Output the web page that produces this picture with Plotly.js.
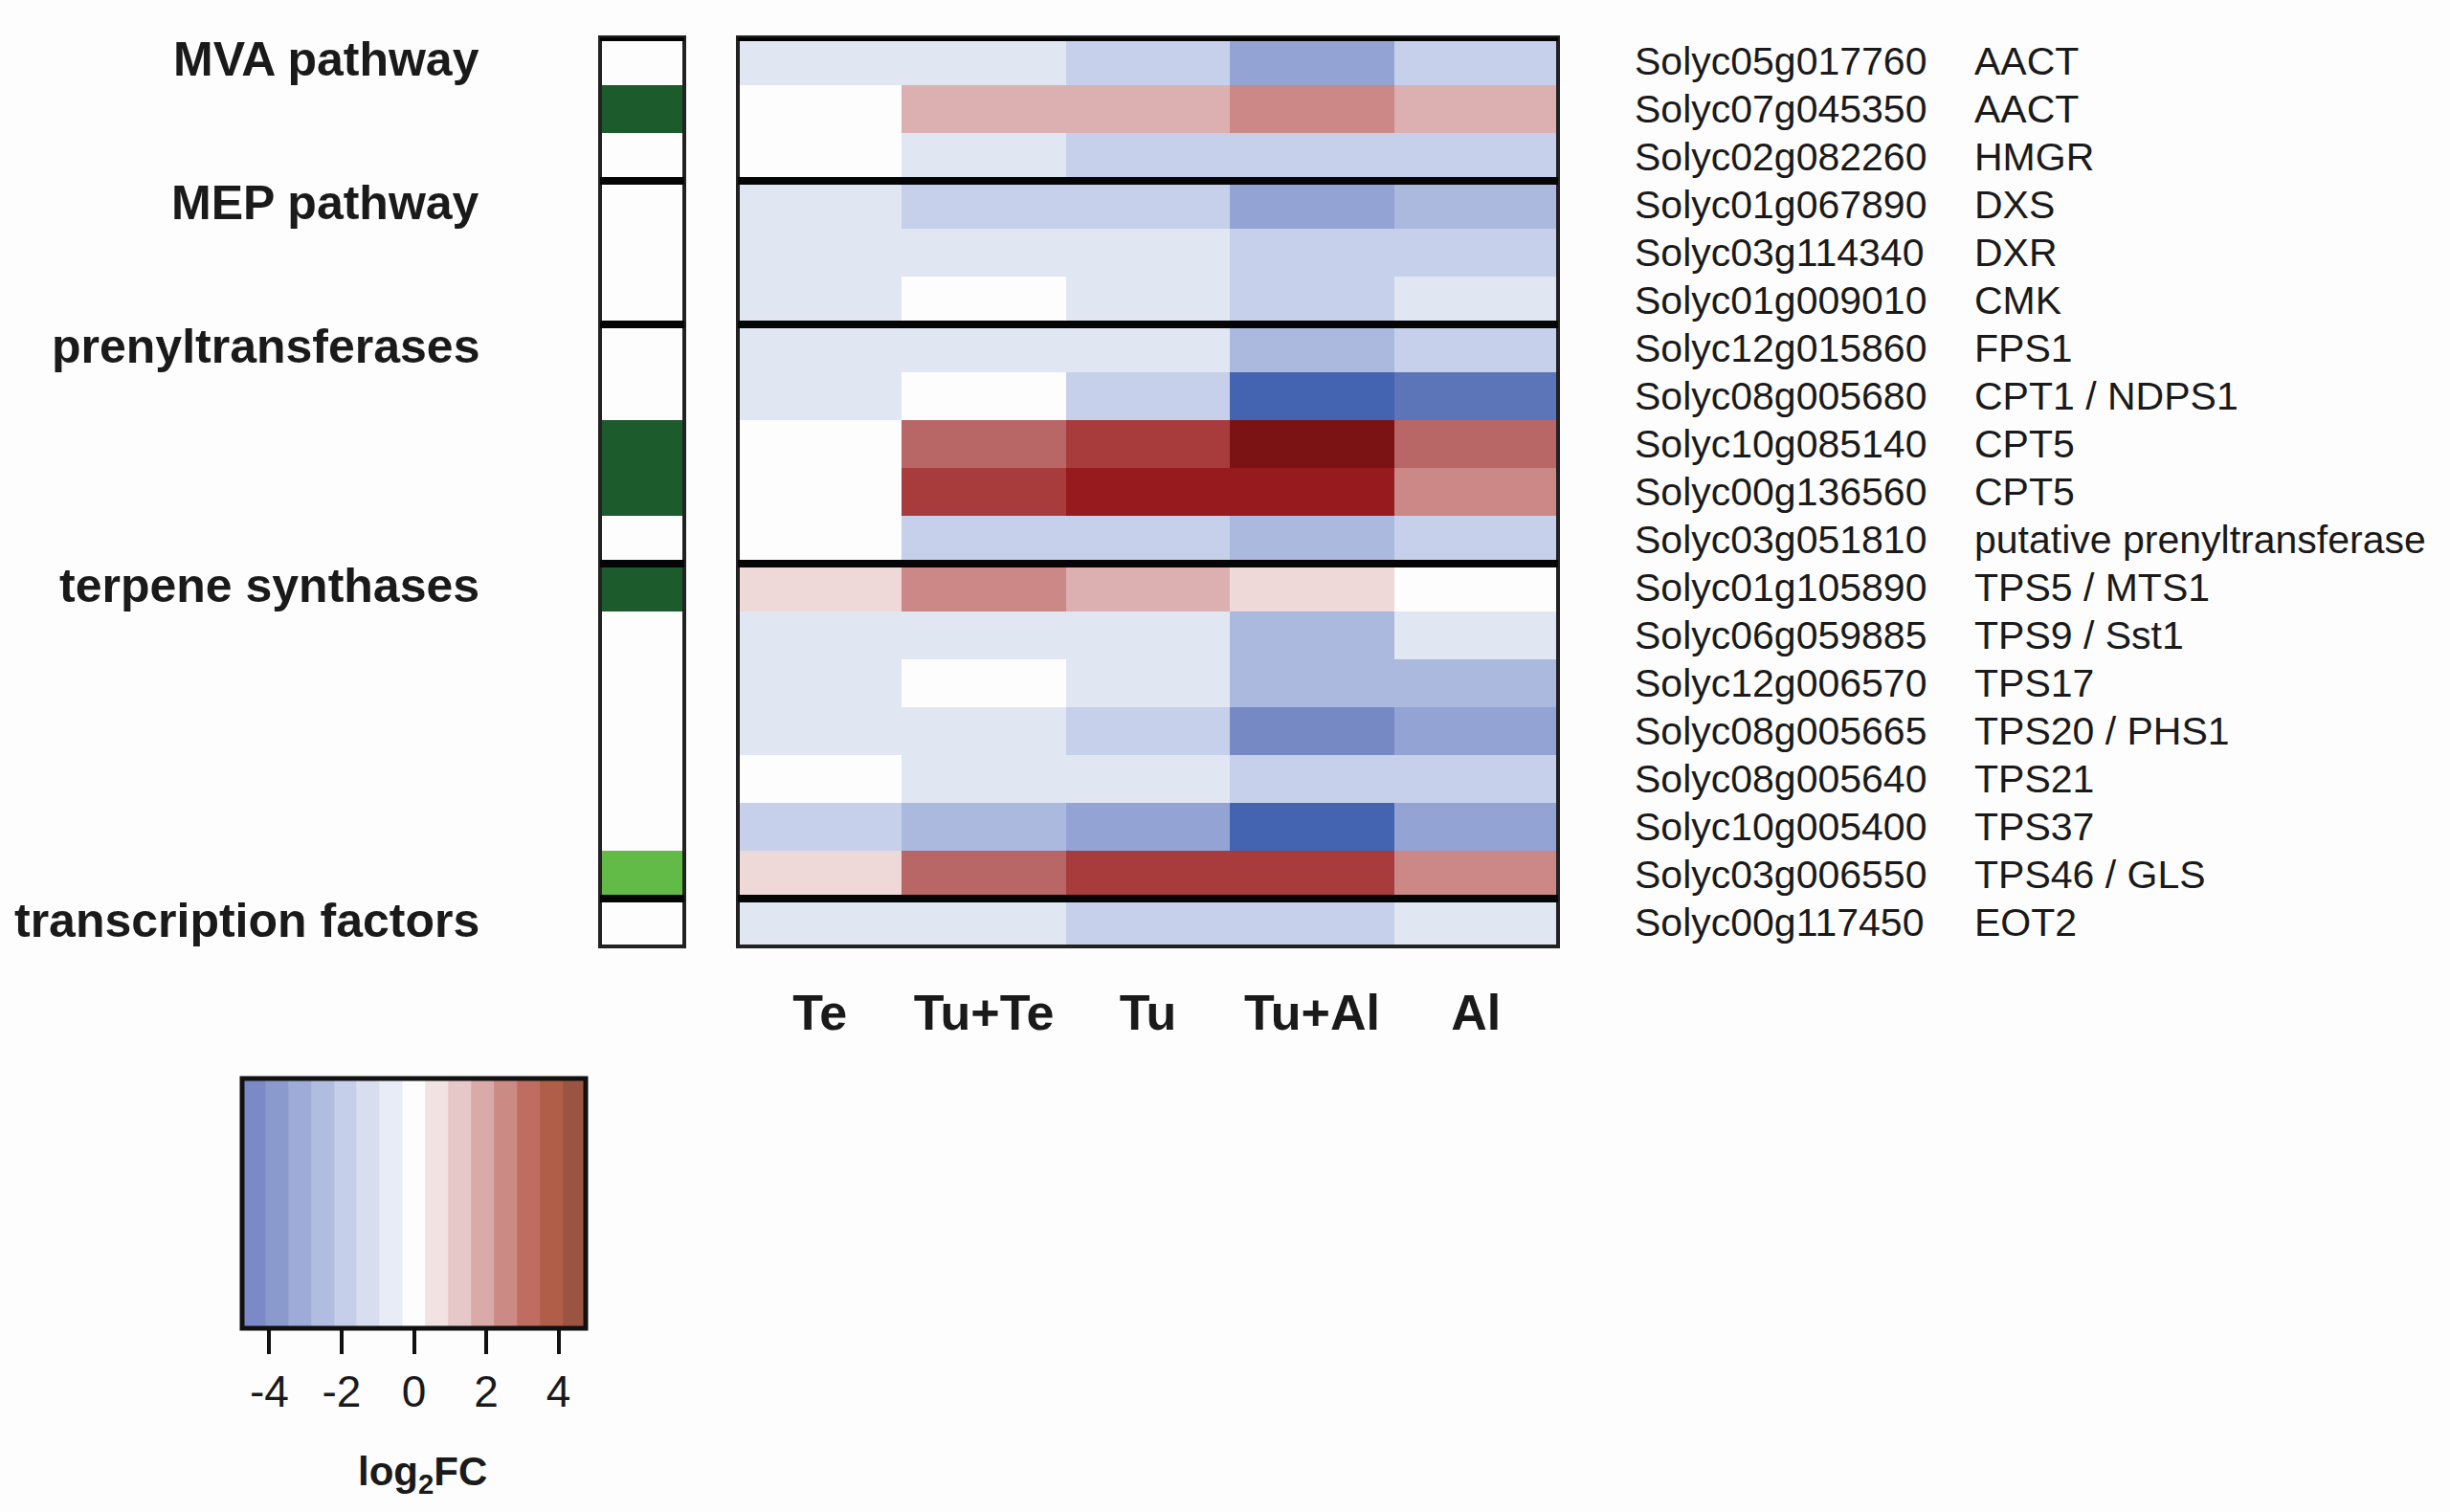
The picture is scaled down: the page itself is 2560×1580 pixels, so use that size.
<!DOCTYPE html>
<html>
<head>
<meta charset="utf-8">
<script src="https://cdn.plot.ly/plotly-3.0.1.min.js"></script>
<style>
  html, body { margin: 0; padding: 0; background: #fdfdfd; }
  #chart { width: 2560px; height: 1580px; }
</style>
</head>
<body>
<div id="chart"></div>
<script>
// ---------------- data ----------------
const conditions = ['Te', 'Tu+Te', 'Tu', 'Tu+Al', 'Al'];
const geneIds = ['Solyc05g017760','Solyc07g045350','Solyc02g082260','Solyc01g067890','Solyc03g114340',
  'Solyc01g009010','Solyc12g015860','Solyc08g005680','Solyc10g085140','Solyc00g136560','Solyc03g051810',
  'Solyc01g105890','Solyc06g059885','Solyc12g006570','Solyc08g005665','Solyc08g005640','Solyc10g005400',
  'Solyc03g006550','Solyc00g117450'];
const geneNames = ['AACT','AACT','HMGR','DXS','DXR','CMK','FPS1','CPT1 / NDPS1','CPT5','CPT5',
  'putative prenyltransferase','TPS5 / MTS1','TPS9 / Sst1','TPS17','TPS20 / PHS1','TPS21','TPS37',
  'TPS46 / GLS','EOT2'];
const groupNames = ['MVA pathway','MEP pathway','prenyltransferases','terpene synthases','transcription factors'];
const groupFirstGene = ['Solyc05g017760','Solyc01g067890','Solyc12g015860','Solyc01g105890','Solyc00g117450'];
const groupBoundaries = [2.5, 5.5, 10.5, 17.5];
// log2 fold change per condition (one value per gene, top to bottom)
const fcTe   = [-0.6, 0.0, 0.0,-0.6,-0.6,-0.6,-0.6,-0.6, 0.0, 0.0, 0.0, 0.6,-0.6,-0.6,-0.6, 0.0,-1.3, 0.6,-0.6];
const fcTuTe = [-0.6, 1.3,-0.6,-1.3,-0.6, 0.0,-0.6, 0.0, 2.6, 3.3,-1.3, 2.0,-0.6, 0.0,-0.6,-0.6,-2.0, 2.6,-0.6];
const fcTu   = [-1.3, 1.3,-1.3,-1.3,-0.6,-0.6,-0.6,-1.3, 3.3, 3.9,-1.3, 1.3,-0.6,-0.6,-1.3,-0.6,-2.6, 3.3,-1.3];
const fcTuAl = [-2.6, 2.0,-1.3,-2.6,-1.3,-1.3,-2.0,-4.5, 4.5, 3.9,-2.0, 0.6,-2.0,-2.0,-3.3,-1.3,-4.5, 3.3,-1.3];
const fcAl   = [-1.3, 1.3,-1.3,-2.0,-1.3,-0.6,-1.3,-3.9, 2.6, 2.0,-1.3, 0.0,-0.6,-2.0,-2.6,-1.3,-2.6, 2.0,-0.6];
// side annotation: 0 = none, 1 = dark green, 2 = light green
const sideMark = [0,1,0,0,0,0,0,0,1,1,0,1,0,0,0,0,0,2,0];
// legend
const legendBins = [-4.43,-3.8,-3.17,-2.53,-1.9,-1.27,-0.63,0,0.63,1.27,1.9,2.53,3.17,3.8,4.43];
const legendTicks = [-4,-2,0,2,4];

// ---------------- styling ----------------
const W = 2560, H = 1580;
const px = v => v / W;
const py = v => 1 - v / H;
const FONT = 'Liberation Sans, Arial, sans-serif';

function hasFont(name) {
  const ctx = document.createElement('canvas').getContext('2d');
  const s = 'MVA pathway prenyltransferases 0123456789';
  ctx.font = '40px monospace';
  const a = ctx.measureText(s).width;
  ctx.font = '40px "' + name + '", monospace';
  const b = ctx.measureText(s).width;
  return Math.abs(a - b) > 0.5;
}
const narrowOK = hasFont('Liberation Sans Narrow');
const NARROW = narrowOK ? 'Liberation Sans Narrow, Liberation Sans, Arial, sans-serif' : FONT;
const k = narrowOK ? 1.17 : 1.0;   // size factor for the condensed face

const heatStops = [
  [-4.5,'#4463b0'],[-3.9,'#5c74b8'],[-3.3,'#7689c4'],[-2.6,'#93a4d4'],[-2.0,'#abb9df'],[-1.3,'#c6d0ea'],[-0.6,'#e1e6f3'],
  [0,'#fdfdfd'],
  [0.6,'#eed8d8'],[1.3,'#dcb0b0'],[2.0,'#cc8787'],[2.6,'#b96667'],[3.3,'#a83b3c'],[3.9,'#961a1e'],[4.5,'#7b1214']
];
const heatScale = heatStops.map(s => [(s[0] + 4.5) / 9, s[1]]);

const legendColors = ['#7b8ac6','#8a9acd','#9dabd6','#b1bde0','#c5cfe9','#d8def0','#e8ecf6','#fdfdfd',
  '#f2e2e2','#e6c8c8','#d9aaa8','#cc8a84','#bf6d60','#b05e48','#9c5442'];
const legendScale = [];
legendColors.forEach((c, i) => {
  legendScale.push([i / legendColors.length, c]);
  legendScale.push([(i + 1) / legendColors.length, c]);
});

const zMain = geneIds.map((g, i) => [fcTe[i], fcTuTe[i], fcTu[i], fcTuAl[i], fcAl[i]]);

const traces = [
  {
    type: 'heatmap', x: conditions, y: geneIds, z: zMain,
    colorscale: heatScale, zmin: -4.5, zmax: 4.5, showscale: false,
    xaxis: 'x', yaxis: 'y', hoverinfo: 'x+y+z', xgap: 0, ygap: 0
  },
  {
    type: 'heatmap', x: ['mark'], y: geneIds, z: sideMark.map(v => [v]),
    colorscale: [[0,'#fdfdfd'],[0.33,'#fdfdfd'],[0.34,'#1b5b2c'],[0.66,'#1b5b2c'],[0.67,'#62bb46'],[1,'#62bb46']],
    zmin: 0, zmax: 2, showscale: false, xaxis: 'x2', yaxis: 'y', hoverinfo: 'skip'
  },
  {
    type: 'heatmap', x: legendBins, y: ['legend'], z: [legendBins],
    colorscale: legendScale, zmin: -4.75, zmax: 4.75, showscale: false,
    xaxis: 'x3', yaxis: 'y3', hoverinfo: 'skip'
  }
];

const annotations = [];
geneIds.forEach((g, i) => {
  annotations.push({ xref: 'paper', yref: 'y', x: px(1706), y: g, xanchor: 'left', yanchor: 'middle',
    text: g, showarrow: false, font: { family: FONT, size: 41, color: '#1a1a1a' } });
  annotations.push({ xref: 'paper', yref: 'y', x: px(2061), y: g, xanchor: 'left', yanchor: 'middle',
    text: geneNames[i], showarrow: false, font: { family: FONT, size: 41, color: '#1a1a1a' } });
});
groupNames.forEach((n, i) => {
  annotations.push({ xref: 'paper', yref: 'y', x: px(503), y: groupFirstGene[i], xanchor: 'right', yanchor: 'middle',
    yshift: 2, text: n, showarrow: false, font: { family: NARROW, size: Math.round(50 * k), color: '#1a1a1a', weight: 'bold' } });
});
annotations.push({ xref: 'paper', yref: 'paper', x: px(441), y: py(1540), xanchor: 'center', yanchor: 'middle',
  text: 'log<sub>2</sub>FC', showarrow: false, font: { family: NARROW, size: Math.round(42 * k), color: '#1a1a1a', weight: 'bold' } });

const shapes = [];
// frames
shapes.push({ type: 'rect', xref: 'x domain', yref: 'y domain', x0: 0, x1: 1, y0: 0, y1: 1,
  line: { color: '#222', width: 4 }, fillcolor: 'rgba(0,0,0,0)' });
shapes.push({ type: 'rect', xref: 'x2 domain', yref: 'y domain', x0: 0, x1: 1, y0: 0, y1: 1,
  line: { color: '#222', width: 4 }, fillcolor: 'rgba(0,0,0,0)' });
shapes.push({ type: 'rect', xref: 'x3 domain', yref: 'y3 domain', x0: 0, x1: 1, y0: 0, y1: 1,
  line: { color: '#111', width: 5 }, fillcolor: 'rgba(0,0,0,0)' });
// group separators (plus thick top edge)
[-0.5].concat(groupBoundaries).forEach(b => {
  ['x domain', 'x2 domain'].forEach(xr => {
    shapes.push({ type: 'line', xref: xr, yref: 'y', x0: 0, x1: 1, y0: b, y1: b,
      line: { color: '#050505', width: 8 } });
  });
});

const layout = {
  width: W, height: H,
  margin: { l: 0, r: 0, t: 0, b: 0, pad: 0 },
  paper_bgcolor: '#fdfdfd', plot_bgcolor: '#fdfdfd',
  showlegend: false,
  font: { family: FONT, color: '#1a1a1a' },
  xaxis: {
    domain: [px(771), px(1628)], anchor: 'y', type: 'category',
    showgrid: false, zeroline: false, showline: false,
    ticks: 'outside', ticklen: narrowOK ? 18 : 24, tickcolor: 'rgba(0,0,0,0)',
    tickfont: { family: NARROW, size: Math.round(52 * k), color: '#1a1a1a', weight: 'bold' }
  },
  yaxis: {
    domain: [py(989), py(39)], anchor: 'x', type: 'category',
    range: [geneIds.length - 0.5, -0.5], autorange: false,
    showticklabels: false, showgrid: false, zeroline: false, ticks: ''
  },
  xaxis2: {
    domain: [px(627), px(715)], anchor: 'y', range: [-0.5, 0.5],
    showticklabels: false, showgrid: false, zeroline: false, ticks: ''
  },
  xaxis3: {
    domain: [px(253), px(612)], anchor: 'y3', range: [-4.75, 4.75],
    tickmode: 'array', tickvals: legendTicks, ticktext: legendTicks.map(String),
    ticks: 'outside', ticklen: 26, tickwidth: 4, tickcolor: '#111',
    showgrid: false, zeroline: false, showline: false,
    tickfont: { family: NARROW, size: Math.round(46 * k), color: '#1a1a1a' }
  },
  yaxis3: {
    domain: [py(1388), py(1127)], anchor: 'x3', range: [-0.5, 0.5],
    showticklabels: false, showgrid: false, zeroline: false, ticks: ''
  },
  annotations: annotations,
  shapes: shapes
};

Plotly.newPlot('chart', traces, layout, { staticPlot: true, displayModeBar: false });
</script>
</body>
</html>
